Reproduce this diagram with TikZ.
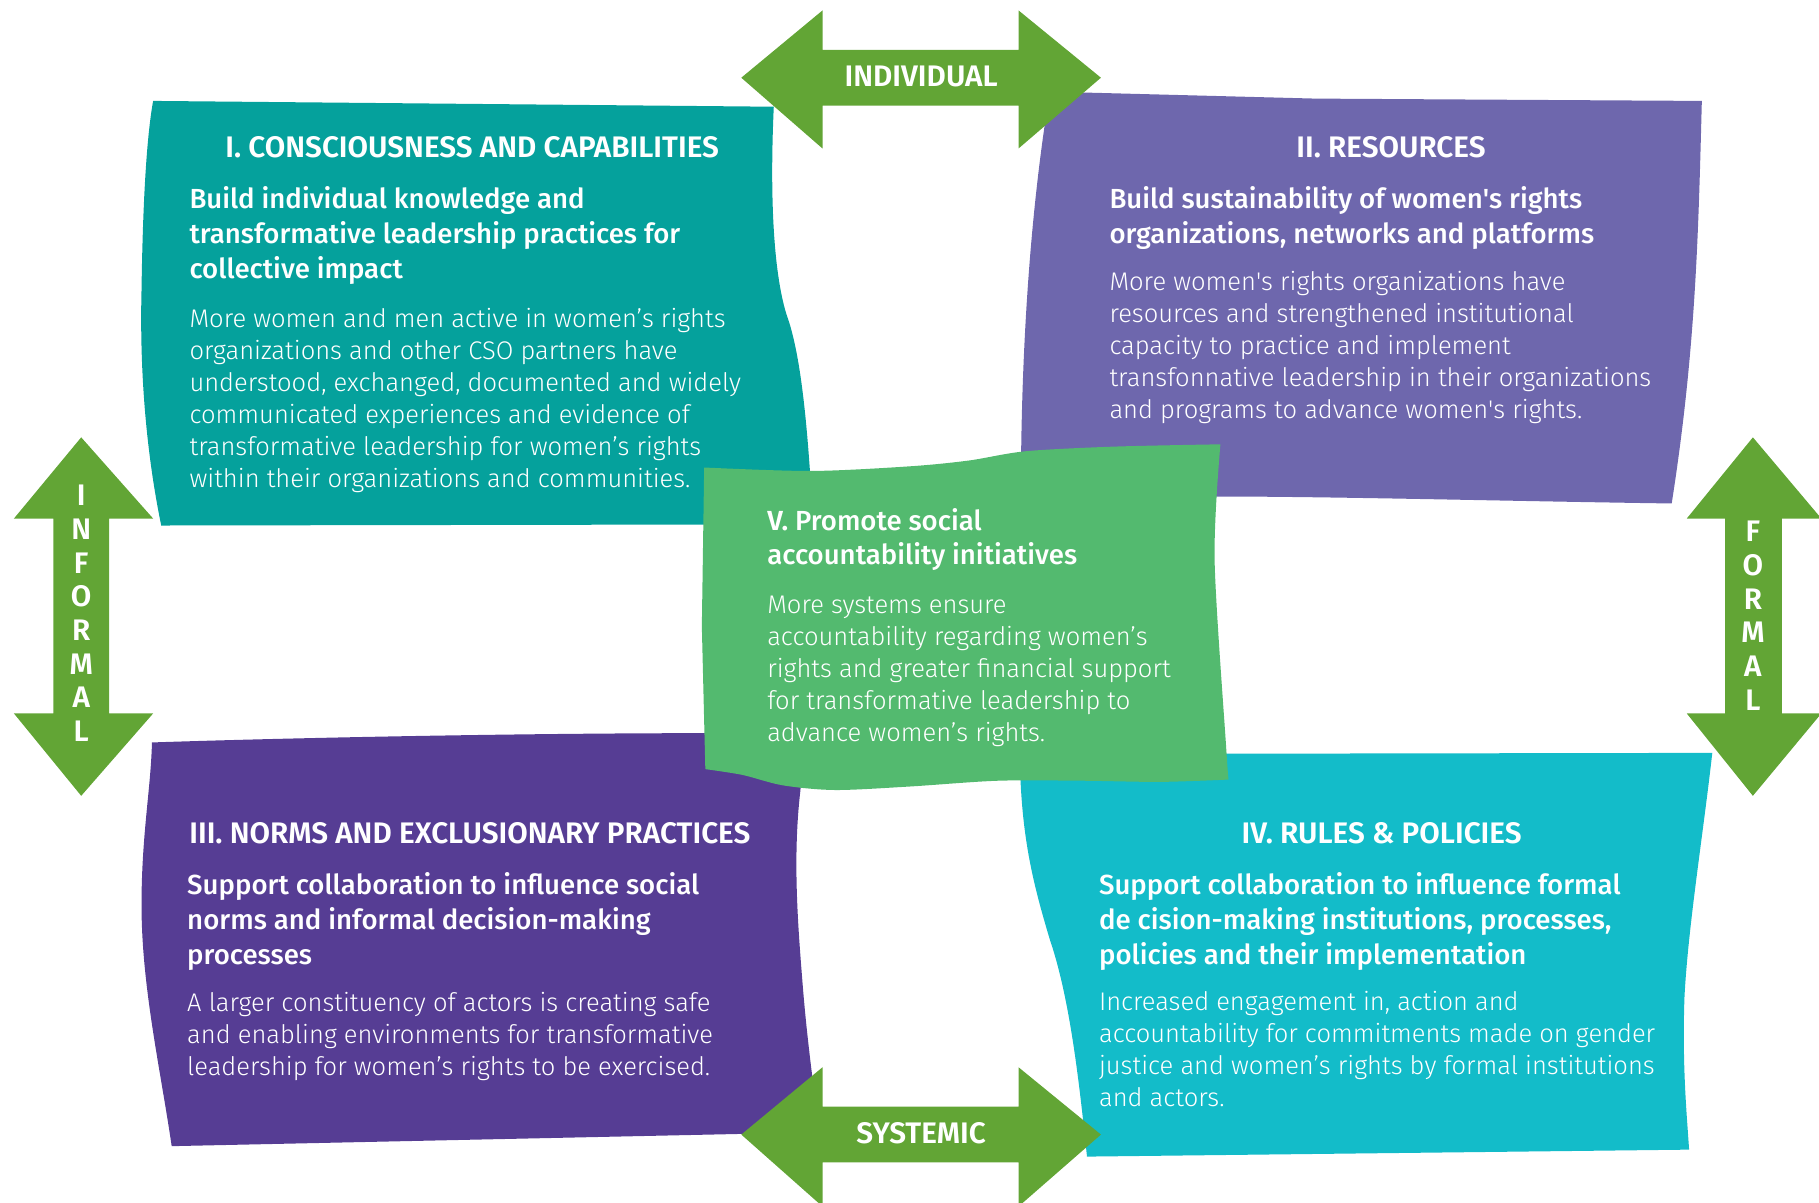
\documentclass[tikz,border=0pt]{standalone}
\usepackage{fontspec}
\newfontfamily\headfont{Fira Sans SemiBold}
\newfontfamily\subfont{Fira Sans Medium}
\newfontfamily\bodyfont{Fira Sans Light}
\definecolor{consc}{HTML}{05A19C}
\definecolor{resour}{HTML}{6E67AD}
\definecolor{norms}{HTML}{563D94}
\definecolor{rules}{HTML}{13BCC9}
\definecolor{account}{HTML}{53BA6F}
\definecolor{axis}{HTML}{62A535}

\begin{document}
\begin{tikzpicture}[x=0.5pt,y=-0.5pt,
  headtxt/.style={anchor=base,inner sep=0pt,text=white,font=\headfont\fontsize{12.8}{14}\selectfont},
  subtxt/.style={anchor=base west,inner sep=0pt,text=white,align=left,font=\subfont\fontsize{11.9}{15}\selectfont},
  bodytxt/.style={anchor=base west,inner sep=0pt,text=white,align=left,font=\bodyfont\fontsize{11}{13.8}\selectfont},
  axistxt/.style={inner sep=0pt,text=white,font=\headfont\fontsize{12.8}{14.5}\selectfont},
  axisarrow/.style={fill=axis}]

\useasboundingbox (0,0) rectangle (1568,1037);

% I. consciousness and capabilities
\fill[consc] (132,87) -- (667,92)
  .. controls (663,180) and (668,245) .. (680,277)
  .. controls (692,315) and (697,380) .. (701,452)
  -- (139,453)
  .. controls (128,400) and (120,330) .. (122,250)
  .. controls (123,180) and (126,120) .. (132,87) -- cycle;
% II. resources
\fill[resour] (905,79) -- (1134,85) -- (1467,87)
  .. controls (1464,200) and (1462,300) .. (1441,434)
  .. controls (1300,432) and (1150,428) .. (1049,428) -- (880,426)
  .. controls (880,330) and (885,200) .. (905,79) -- cycle;
% III. norms
\fill[norms] (131,640) .. controls (250,636) and (450,632) .. (607,632) -- (692,630) -- (690,681)
  .. controls (683,740) and (688,800) .. (692,850)
  .. controls (696,900) and (702,940) .. (706,976)
  -- (148,988)
  .. controls (138,920) and (122,850) .. (122,780)
  .. controls (122,720) and (130,680) .. (131,640) -- cycle;
% IV. rules
\fill[rules] (879,650) -- (1476,649)
  .. controls (1468,720) and (1455,800) .. (1452,860)
  .. controls (1450,920) and (1454,960) .. (1456,991)
  -- (937,997)
  .. controls (930,930) and (922,860) .. (905,810)
  .. controls (890,760) and (880,720) .. (879,650) -- cycle;
% V. accountability
\fill[account] plot[smooth,tension=0.5] coordinates {(607,403) (699,406) (784,402) (835,397) (884,389) (960,385) (1052,383)}
  -- plot[smooth,tension=0.5] coordinates {(1052,383) (1047,483) (1057,645) (1059,672)}
  -- plot[smooth,tension=0.5] coordinates {(1059,672) (1000,674) (934,673) (860,673) (784,678) (720,681) (675,677) (640,668) (608,663)}
  -- (605,540) -- cycle;

% axes
\fill[axisarrow] (639,67) -- (709,9) -- (709,43) -- (878,43) -- (878,9) -- (949,67)
  -- (878,128) -- (878,91) -- (709,91) -- (709,128) -- cycle;
\fill[axisarrow] (639,978) -- (709,920) -- (709,954) -- (878,954) -- (878,920) -- (949,978)
  -- (878,1040) -- (878,1002) -- (709,1002) -- (709,1040) -- cycle;
\fill[axisarrow] (70,377) -- (132,447) -- (94,447) -- (94,615) -- (132,615) -- (70,686)
  -- (12,615) -- (46,615) -- (46,447) -- (12,447) -- cycle;
\fill[axisarrow] (1511,377) -- (1570,447) -- (1536,447) -- (1536,615) -- (1570,615) -- (1511,686)
  -- (1454,615) -- (1487,615) -- (1487,447) -- (1454,447) -- cycle;

\node[axistxt,anchor=base] (individual) at (794,75) {INDIVIDUAL};
\node[axistxt,anchor=base] (systemic) at (794,986) {SYSTEMIC};
\node[axistxt,anchor=north,align=center] (informal) at (70,418) {I\\N\\F\\O\\R\\M\\A\\L};
\node[axistxt,anchor=north,align=center] (formal) at (1511,449) {F\\O\\R\\M\\A\\L};

% texts (base = last line)
\node[headtxt] (headI) at (407,136) {I. CONSCIOUSNESS AND CAPABILITIES};
\node[subtxt] (subI) at (163,240) {Build individual knowledge and\\transformative leadership practices for\\collective impact};
\node[bodytxt] (bodyI) at (163,420) {More women and men active in women’s rights\\organizations and other CSO partners have\\understood, exchanged, documented and widely\\communicated experiences and evidence of\\transformative leadership for women’s rights\\within their organizations and communities.};

\node[headtxt] (headII) at (1199,136) {II. RESOURCES};
\node[subtxt] (subII) at (956,210) {Build sustainability of women\textquotesingle s rights\\organizations, networks and platforms};
\node[bodytxt] (bodyII) at (956,361) {More women\textquotesingle s rights organizations have\\resources and strengthened institutional\\capacity to practice and implement\\transfonnative leadership in their organizations\\and programs to advance women\textquotesingle s rights.};

\node[subtxt] (headV) at (661,487) {{\headfont V.} Promote social\\accountability initiatives};
\node[bodytxt] (bodyV) at (661,639) {More systems ensure\\accountability regarding women’s\\rights and greater financial support\\for transformative leadership to\\advance women’s rights.};

\node[headtxt] (headIII) at (405,727) {III. NORMS AND EXCLUSIONARY PRACTICES};
\node[subtxt] (subIII) at (161,831) {Support collaboration to influence social\\norms and informal decision-making\\processes};
\node[bodytxt] (bodyIII) at (161,927) {A larger constituency of actors is creating safe\\and enabling environments for transformative\\leadership for women’s rights to be exercised.};

\node[headtxt] (headIV) at (1191,727) {IV. RULES \& POLICIES};
\node[subtxt] (subIV) at (947,831) {Support collaboration to influence formal\\de cision-making institutions, processes,\\policies and their implementation};
\node[bodytxt] (bodyIV) at (947,954) {Increased engagement in, action and\\accountability for commitments made on gender\\justice and women’s rights by formal institutions\\and actors.};
\end{tikzpicture}
\end{document}
